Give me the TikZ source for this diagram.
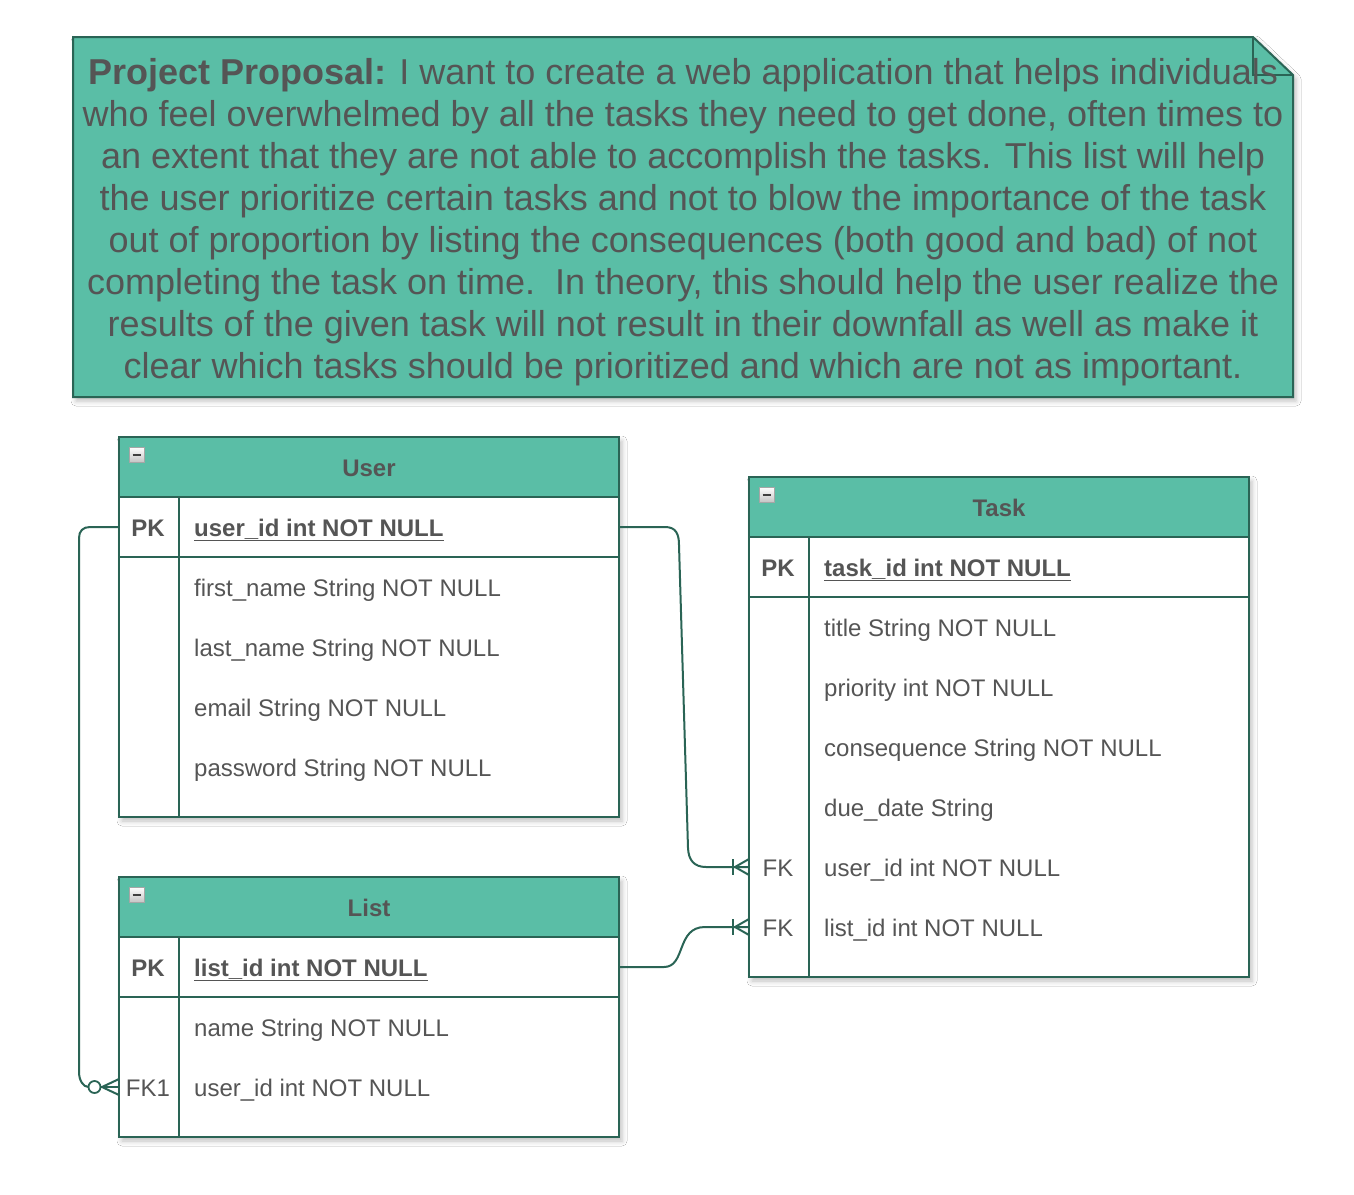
\documentclass[tikz,border=0pt]{standalone}
\usepackage{fontspec}
\setmainfont{Liberation Sans}
\usetikzlibrary{shadows.blur}
\definecolor{erfill}{HTML}{5ABEA6}
\definecolor{erline}{HTML}{2A6455}
\definecolor{ertext}{HTML}{555555}
\newcommand{\tfont}{\fontsize{24}{28}\selectfont}
\newcommand{\nfont}{\fontsize{36}{42}\selectfont}
\tikzset{
  shad/.style={blur shadow={shadow xshift=3pt, shadow yshift=-4pt, shadow blur radius=5pt, shadow opacity=25}},
  hdr/.style={draw=erline, line width=2pt, fill=erfill, minimum width=500pt, minimum height=60pt, inner sep=0pt, font=\bfseries\tfont, text=ertext},
  rowbox/.style={draw=erline, line width=2pt, fill=white, minimum width=500pt, inner sep=0pt},
  fld/.style={anchor=base west, inner sep=0pt, font=\tfont, text=ertext},
  keyl/.style={anchor=base, inner sep=0pt, font=\tfont, text=ertext},
  conn/.style={draw=erline, line width=2pt},
  icon/.style={draw=gray!70, line width=0.8pt, minimum size=15pt, inner sep=0pt, top color=white, bottom color=gray!45},
  onemany/.pic={\draw[conn] (-16,-8) -- (-16,8); \draw[conn] (0,-8) -- (-14,0) -- (0,8);},
  zeromany/.pic={\draw[conn] (-18.5,0) -- (0,0); \draw[conn] (0,-8) -- (-17,0) -- (0,8); \draw[conn, fill=white, line width=1.8pt] (-24.5,0) circle (6);},
}
\begin{document}
\begin{tikzpicture}[x=1pt,y=-1pt]
\useasboundingbox[fill=white] (0,0) rectangle (1354,1194);

% Note
\path[shad, fill=erfill] (73,37) -- (1253,37) -- (1293,75) -- (1293,397) -- (73,397) -- cycle;
\draw[erline, line width=2pt, line join=miter] (73,37) -- (1253,37) -- (1293,75) -- (1293,397) -- (73,397) -- cycle;
\draw[erline, line width=2pt] (1253,37) -- (1253,75) -- (1293,75);
\node[align=center, inner sep=0pt, font=\nfont, text=ertext] (note) at (683,222.5) {%
\textbf{Project Proposal:} I want to create a web application that helps individuals\\
who feel overwhelmed by all the tasks they need to get done, often times to\\
an extent that they are not able to accomplish the tasks. This list will help\\
the user prioritize certain tasks and not to blow the importance of the task\\
out of proportion by listing the consequences (both good and bad) of not\\
completing the task on time.\ \ In theory, this should help the user realize the\\
results of the given task will not result in their downfall as well as make it\\
clear which tasks should be prioritized and which are not as important.};

% User table
\path[shad, fill=white] (119,437) rectangle (619,817);
\node[hdr] (userH) at (369,467) {};
\node[font=\bfseries\tfont, text=ertext, anchor=base, inner sep=0pt] (userT) at (369,476) {User};
\node[rowbox, minimum height=60pt] (userPK) at (369,527) {};
\node[rowbox, minimum height=260pt] (userB) at (369,687) {};
\draw[erline, line width=2pt] (179,497) -- (179,817);
\node[icon] (userI) at (136.5,454.5) {};
\draw[black!75, line width=2pt] (132.5,454.5) -- (140.5,454.5);
\node[keyl, font=\bfseries\tfont] (userPKk) at (148,536) {PK};
\node[fld, font=\bfseries\tfont] (userPKf) at (194,536) {\underline{user\_id int NOT NULL}};
\node[fld] (uf1) at (194,596) {first\_name String NOT NULL};
\node[fld] (uf2) at (194,656) {last\_name String NOT NULL};
\node[fld] (uf3) at (194,716) {email String NOT NULL};
\node[fld] (uf4) at (194,776) {password String NOT NULL};

% Task table
\path[shad, fill=white] (749,477) rectangle (1249,977);
\node[hdr] (taskH) at (999,507) {};
\node[font=\bfseries\tfont, text=ertext, anchor=base, inner sep=0pt] (taskT) at (999,516) {Task};
\node[rowbox, minimum height=60pt] (taskPK) at (999,567) {};
\node[rowbox, minimum height=380pt] (taskB) at (999,787) {};
\draw[erline, line width=2pt] (809,537) -- (809,977);
\node[icon] (taskI) at (766.5,494.5) {};
\draw[black!75, line width=2pt] (762.5,494.5) -- (770.5,494.5);
\node[keyl, font=\bfseries\tfont] (taskPKk) at (778,576) {PK};
\node[fld, font=\bfseries\tfont] (taskPKf) at (824,576) {\underline{task\_id int NOT NULL}};
\node[fld] (tf1) at (824,636) {title String NOT NULL};
\node[fld] (tf2) at (824,696) {priority int NOT NULL};
\node[fld] (tf3) at (824,756) {consequence String NOT NULL};
\node[fld] (tf4) at (824,816) {due\_date String};
\node[keyl] (tFKu) at (778,876) {FK};
\node[fld] (tf5) at (824,876) {user\_id int NOT NULL};
\node[keyl] (tFKl) at (778,936) {FK};
\node[fld] (tf6) at (824,936) {list\_id int NOT NULL};

% List table
\path[shad, fill=white] (119,877) rectangle (619,1137);
\node[hdr] (listH) at (369,907) {};
\node[font=\bfseries\tfont, text=ertext, anchor=base, inner sep=0pt] (listT) at (369,916) {List};
\node[rowbox, minimum height=60pt] (listPK) at (369,967) {};
\node[rowbox, minimum height=140pt] (listB) at (369,1067) {};
\draw[erline, line width=2pt] (179,937) -- (179,1137);
\node[icon] (listI) at (136.5,894.5) {};
\draw[black!75, line width=2pt] (132.5,894.5) -- (140.5,894.5);
\node[keyl, font=\bfseries\tfont] (listPKk) at (148,976) {PK};
\node[fld, font=\bfseries\tfont] (listPKf) at (194,976) {\underline{list\_id int NOT NULL}};
\node[fld] (lf1) at (194,1036) {name String NOT NULL};
\node[keyl] (lFK) at (148,1096) {FK1};
\node[fld] (lf2) at (194,1096) {user\_id int NOT NULL};

% Connectors
\coordinate (tUend) at (749,867);
\coordinate (tLend) at (749,927);
\coordinate (lUend) at (119,1087);
\draw[conn] (userPK.east) -- (665,527) .. controls (676,527) and (679,534) .. (679,545) -- (688,848) .. controls (688.5,860) and (694,867) .. (706,867) -- (tUend);
\pic at (tUend) {onemany};
\draw[conn] (listPK.east) -- (664,967) .. controls (686,967) and (676,927) .. (705,927) -- (tLend);
\pic at (tLend) {onemany};
\draw[conn] (userPK.west) -- (90,527) .. controls (83,527) and (79,531) .. (79,538) -- (79,1072) .. controls (79,1080) and (83,1087) .. (88.5,1087);
\pic at (lUend) {zeromany};
\end{tikzpicture}
\end{document}
